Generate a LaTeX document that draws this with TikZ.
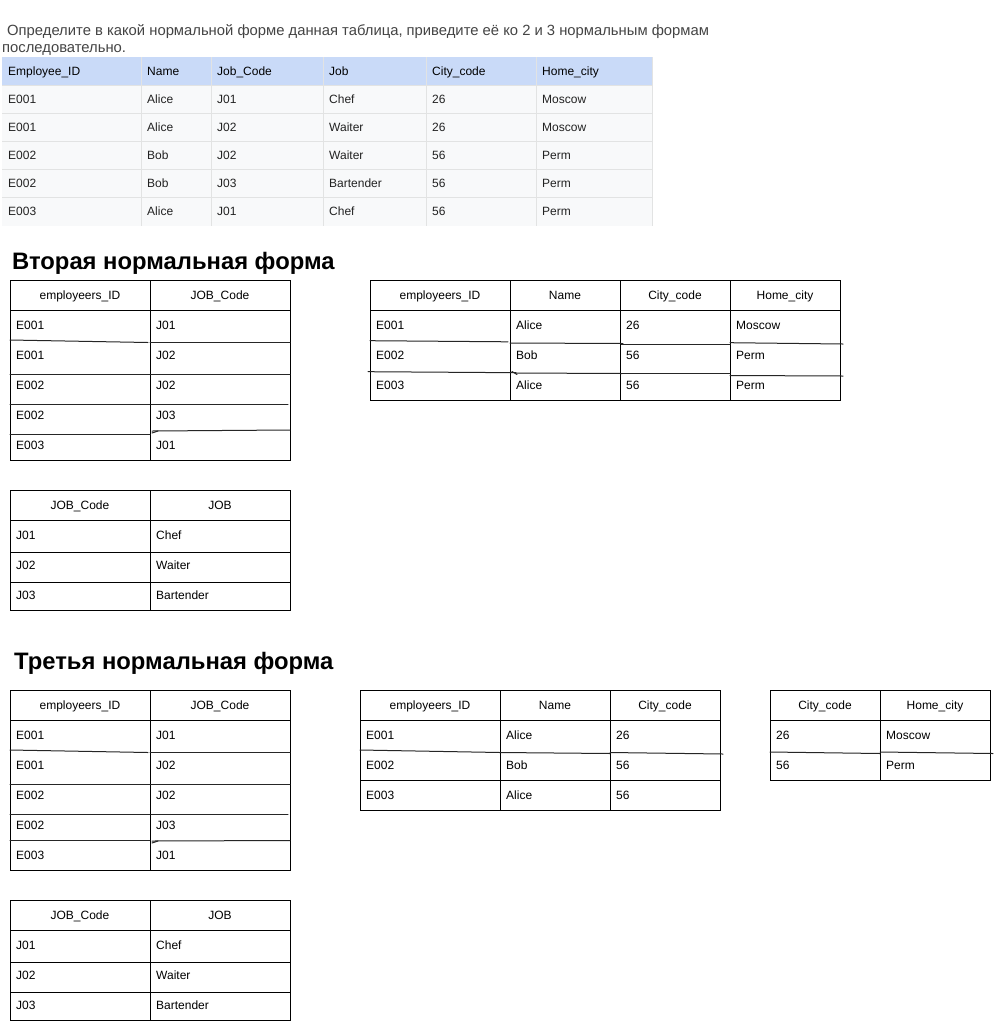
\documentclass[tikz,border=0pt]{standalone}
\usepackage{fontspec}
\setmainfont{Liberation Sans}
\definecolor{hdrblue}{HTML}{C9DAF8}
\definecolor{rowgray}{HTML}{F8F9FA}
\definecolor{gridgray}{HTML}{E2E3E3}
\definecolor{qgray}{HTML}{444444}
\definecolor{tgray}{HTML}{222222}
\begin{document}
\begin{tikzpicture}[x=1pt,y=-1pt,
  cellL/.style={anchor=base west, inner sep=0pt, font=\fontsize{12}{14}\selectfont},
  cellC/.style={anchor=base, inner sep=0pt, font=\fontsize{12}{14}\selectfont},
  sheet/.style={anchor=base west, inner sep=0pt, text=tgray, font=\fontsize{12}{14}\selectfont},
  title/.style={anchor=base west, inner sep=0pt, font=\bfseries\fontsize{23.8}{27}\selectfont},
  tbl/.style={draw=black, line width=1pt},
  hand/.style={draw=black!85, line width=1pt, line cap=round},
  grid/.style={draw=gridgray, line width=0.8pt}]
\useasboundingbox (0,0) rectangle (995,1021);
\fill[white] (0,0) rectangle (995,1021);

% question
\node[anchor=base west, inner sep=0pt, text=qgray, font=\fontsize{14.8}{17}\selectfont] (q1) at (7,35)
  {Определите в какой нормальной форме данная таблица, приведите её ко 2 и 3 нормальным формам};
\node[anchor=base west, inner sep=0pt, text=qgray, font=\fontsize{14.8}{17}\selectfont] (q2) at (2,52)
  {последовательно.};

% source sheet table
\fill[hdrblue] (2,57) rectangle (652,85);
\fill[rowgray] (2,85) rectangle (652,226);
\foreach \yy in {85,113,141,169,197} \draw[grid] (2,\yy) -- (652,\yy);
\foreach \xx in {141,211,323,426,536,652} \draw[grid] (\xx,57) -- (\xx,226);
\foreach \t [count=\c] in {Employee\_ID,Name,Job\_Code,Job,City\_code,Home\_city}
  { \pgfmathsetmacro{\xx}{{8,147,217,329,432,542}[\c-1]}
    \node[sheet, text=black] (s-0-\c) at (\xx,75) {\t}; }
\foreach \a/\b/\cc/\d/\e/\f [count=\r] in
  {E001/Alice/J01/Chef/26/Moscow, E001/Alice/J02/Waiter/26/Moscow,
   E002/Bob/J02/Waiter/56/Perm, E002/Bob/J03/Bartender/56/Perm, E003/Alice/J01/Chef/56/Perm}
  { \pgfmathsetmacro{\yy}{75+28*\r}
    \node[sheet] (s-\r-1) at (8,\yy) {\a};
    \node[sheet] (s-\r-2) at (147,\yy) {\b};
    \node[sheet] (s-\r-3) at (217,\yy) {\cc};
    \node[sheet] (s-\r-4) at (329,\yy) {\d};
    \node[sheet] (s-\r-5) at (432,\yy) {\e};
    \node[sheet] (s-\r-6) at (542,\yy) {\f}; }

% ===== 2NF =====
\node[title] (t2) at (12,269.5) {Вторая нормальная форма};

% Table A
\draw[tbl] (10,280) rectangle (290,460);
\draw[tbl] (150,280) -- (150,460);
\draw[tbl] (10,310) -- (290,310);
\draw[hand] (10,340) -- (148,342.5);
\draw[hand] (10,374) -- (150,374);
\draw[hand] (10,404) -- (150,404);
\draw[hand] (10,434) -- (150,434);
\draw[hand] (150,342) -- (290,342);
\draw[hand] (150,374) -- (290,374);
\draw[hand] (151,404) -- (288,404);
\draw[hand] (152,431) -- (290,430);
\draw[hand] (152,433) -- (158,431);
\node[cellC] (A-0-1) at (80,299) {employeers\_ID};
\node[cellC] (A-0-2) at (220,299) {JOB\_Code};
\foreach \a/\b [count=\r] in {E001/J01,E001/J02,E002/J02,E002/J03,E003/J01}
  { \pgfmathsetmacro{\yy}{299+30*\r}
    \node[cellL] (A-\r-1) at (16,\yy) {\a};
    \node[cellL] (A-\r-2) at (156,\yy) {\b}; }

% Table B
\draw[tbl] (370,280) rectangle (840,400);
\foreach \xx in {510,620,730} \draw[tbl] (\xx,280) -- (\xx,400);
\draw[tbl] (370,310) -- (840,310);
\draw[hand] (370,340.7) -- (508,341.8);
\draw[hand] (510,343) -- (623,343.5);
\draw[hand] (621,344) -- (730,344);
\draw[hand] (730,342.7) -- (843,344);
\draw[hand] (368,371.7) -- (516,372.7);
\draw[hand] (512,371.5) -- (517,374.5);
\draw[hand] (515,373) -- (622,373.5);
\draw[hand] (622,373) -- (730,373);
\draw[hand] (730,375.5) -- (843,376);
\node[cellC] (B-0-1) at (440,299) {employeers\_ID};
\node[cellC] (B-0-2) at (565,299) {Name};
\node[cellC] (B-0-3) at (675,299) {City\_code};
\node[cellC] (B-0-4) at (785,299) {Home\_city};
\foreach \a/\b/\cc/\d [count=\r] in {E001/Alice/26/Moscow,E002/Bob/56/Perm,E003/Alice/56/Perm}
  { \pgfmathsetmacro{\yy}{299+30*\r}
    \node[cellL] (B-\r-1) at (376,\yy) {\a};
    \node[cellL] (B-\r-2) at (516,\yy) {\b};
    \node[cellL] (B-\r-3) at (626,\yy) {\cc};
    \node[cellL] (B-\r-4) at (736,\yy) {\d}; }

% Table C
\draw[tbl] (10,490) rectangle (290,610);
\draw[tbl] (150,490) -- (150,610);
\foreach \yy in {520,552,582} \draw[tbl] (10,\yy) -- (290,\yy);
\node[cellC] (C-0-1) at (80,509) {JOB\_Code};
\node[cellC] (C-0-2) at (220,509) {JOB};
\foreach \a/\b/\yy [count=\r] in {J01/Chef/539,J02/Waiter/569,J03/Bartender/599}
  { \node[cellL] (C-\r-1) at (16,\yy) {\a};
    \node[cellL] (C-\r-2) at (156,\yy) {\b}; }

% ===== 3NF =====
\node[title] (t3) at (14,669.5) {Третья нормальная форма};

% Table D
\draw[tbl] (10,690) rectangle (290,870);
\draw[tbl] (150,690) -- (150,870);
\draw[tbl] (10,720) -- (290,720);
\draw[hand] (10,750) -- (148,752.5);
\draw[hand] (10,784) -- (150,784);
\draw[hand] (10,814) -- (150,814);
\draw[hand] (10,840) -- (150,840);
\draw[hand] (150,752) -- (290,752);
\draw[hand] (150,784) -- (290,784);
\draw[hand] (151,814) -- (288,814);
\draw[hand] (152,841) -- (290,840.5);
\draw[hand] (152,843) -- (158,841);
\node[cellC] (D-0-1) at (80,709) {employeers\_ID};
\node[cellC] (D-0-2) at (220,709) {JOB\_Code};
\foreach \a/\b [count=\r] in {E001/J01,E001/J02,E002/J02,E002/J03,E003/J01}
  { \pgfmathsetmacro{\yy}{709+30*\r}
    \node[cellL] (D-\r-1) at (16,\yy) {\a};
    \node[cellL] (D-\r-2) at (156,\yy) {\b}; }

% Table E
\draw[tbl] (360,690) rectangle (720,810);
\foreach \xx in {500,610} \draw[tbl] (\xx,690) -- (\xx,810);
\draw[tbl] (360,720) -- (720,720);
\draw[hand] (360,750) -- (500,752.5);
\draw[hand] (500,752.5) -- (610,753.5);
\draw[hand] (610,752.5) -- (723,754);
\draw[tbl] (360,780) -- (720,780);
\node[cellC] (E-0-1) at (430,709) {employeers\_ID};
\node[cellC] (E-0-2) at (555,709) {Name};
\node[cellC] (E-0-3) at (665,709) {City\_code};
\foreach \a/\b/\cc [count=\r] in {E001/Alice/26,E002/Bob/56,E003/Alice/56}
  { \pgfmathsetmacro{\yy}{709+30*\r}
    \node[cellL] (E-\r-1) at (366,\yy) {\a};
    \node[cellL] (E-\r-2) at (506,\yy) {\b};
    \node[cellL] (E-\r-3) at (616,\yy) {\cc}; }

% Table F
\draw[tbl] (770,690) rectangle (990,780);
\draw[tbl] (880,690) -- (880,780);
\draw[tbl] (770,720) -- (990,720);
\draw[hand] (770,752) -- (880,753.5);
\draw[hand] (880,752) -- (993,753.5);
\node[cellC] (F-0-1) at (825,709) {City\_code};
\node[cellC] (F-0-2) at (935,709) {Home\_city};
\foreach \a/\b [count=\r] in {26/Moscow,56/Perm}
  { \pgfmathsetmacro{\yy}{709+30*\r}
    \node[cellL] (F-\r-1) at (776,\yy) {\a};
    \node[cellL] (F-\r-2) at (886,\yy) {\b}; }

% Table G
\draw[tbl] (10,900) rectangle (290,1020);
\draw[tbl] (150,900) -- (150,1020);
\foreach \yy in {930,962,992} \draw[tbl] (10,\yy) -- (290,\yy);
\node[cellC] (G-0-1) at (80,919) {JOB\_Code};
\node[cellC] (G-0-2) at (220,919) {JOB};
\foreach \a/\b/\yy [count=\r] in {J01/Chef/949,J02/Waiter/979,J03/Bartender/1009}
  { \node[cellL] (G-\r-1) at (16,\yy) {\a};
    \node[cellL] (G-\r-2) at (156,\yy) {\b}; }
\end{tikzpicture}
\end{document}
